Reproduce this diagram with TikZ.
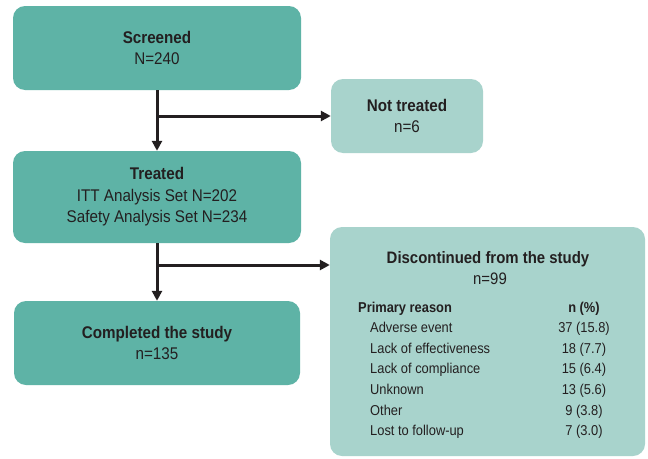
\documentclass[tikz,border=0pt]{standalone}
\usepackage{fontspec}
\setmainfont{Liberation Sans}[FakeStretch=0.9]
\usetikzlibrary{arrows.meta}
\definecolor{tealdark}{HTML}{5EB3A6}
\definecolor{teallight}{HTML}{A8D3CC}
\definecolor{ink}{HTML}{231F20}
\begin{document}
\begin{tikzpicture}[x=1pt,y=-1pt,
  box/.style={rounded corners=12pt, inner sep=0pt, text=ink, align=center,
    font=\fontsize{16.9}{21.5}\selectfont},
  darkbox/.style={box, fill=tealdark},
  lightbox/.style={box, fill=teallight},
  conn/.style={draw=ink, line width=3pt, -{Triangle[length=10pt,width=10pt]}},
  listtxt/.style={inner sep=0pt, text=ink, font=\fontsize{14.3}{17}\selectfont},
  titletxt/.style={inner sep=0pt, text=ink, font=\fontsize{16.6}{21}\selectfont}]
\fill[white] (0,0) rectangle (648,458);
\useasboundingbox (0,0) rectangle (648,458);

\node[darkbox, minimum width=288pt, minimum height=84pt] (scr) at (157,48) {\textbf{Screened}\\N=240};
\node[darkbox, minimum width=288pt, minimum height=92pt] (trt) at (157,197) {\textbf{Treated}\\ITT Analysis Set N=202\\Safety Analysis Set N=234};
\node[darkbox, minimum width=286pt, minimum height=84pt] (cmp) at (157,343) {\textbf{Completed the study}\\n=135};
\node[lightbox, minimum width=152pt, minimum height=74pt] (nt) at (407,116) {\textbf{Not treated}\\n=6};
\node[lightbox, minimum width=315pt, minimum height=229pt] (disc) at (487.5,341.5) {};

\node[titletxt, anchor=base] (dt) at (488,263) {\textbf{Discontinued from the study}};
\node[titletxt, anchor=base] (dn) at (490,284) {n=99};
\node[listtxt, anchor=base west] (pr) at (358,312) {\textbf{Primary reason}};
\node[listtxt, anchor=base] (np) at (584,312) {\textbf{n (\%)}};
\foreach \i/\lab/\val in {1/Adverse event/37 (15.8), 2/Lack of effectiveness/18 (7.7), 3/Lack of compliance/15 (6.4), 4/Unknown/13 (5.6), 5/Other/9 (3.8), 6/Lost to follow-up/7 (3.0)}{
  \node[listtxt, anchor=base west] (r\i) at (370,312+20.6*\i) {\lab};
  \node[listtxt, anchor=base] (v\i) at (584,312+20.6*\i) {\val};
}

\coordinate (b1) at (157,116);
\coordinate (b2) at (157,265);
\draw[conn] (scr.south) -- (trt.north);
\draw[conn] (b1) -- (nt.west);
\draw[conn] (trt.south) -- (cmp.north);
\draw[conn] (b2) -- (disc.west |- b2);
\end{tikzpicture}
\end{document}
